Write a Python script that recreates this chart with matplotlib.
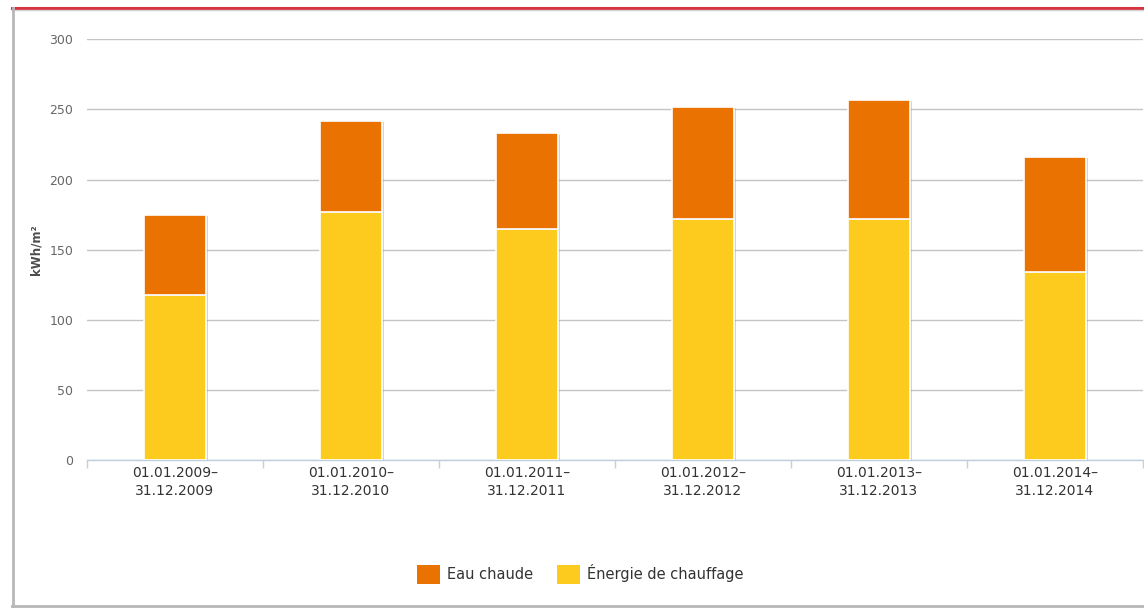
import numpy as np
import matplotlib
matplotlib.use('Agg')
import matplotlib.pyplot as plt
import matplotlib.patheffects as pe
from matplotlib.lines import Line2D

periods = ['01.01.2009–\n31.12.2009', '01.01.2010–\n31.12.2010', '01.01.2011–\n31.12.2011',
           '01.01.2012–\n31.12.2012', '01.01.2013–\n31.12.2013', '01.01.2014–\n31.12.2014']
chauffage = [118, 177, 165, 172, 172, 134]
eau_chaude = [57, 65, 68, 80, 85, 82]

plt.rcParams['font.family'] = ['DejaVu Sans']

fig = plt.figure(figsize=(11.44, 6.10), dpi=100)
ax = fig.add_axes([87/1144, 150/610, 1056/1144, 420.7/610])

x = np.arange(len(periods))
shadow = [pe.SimplePatchShadow(offset=(1.5, -1), shadow_rgbFace='#888888', alpha=0.35), pe.Normal()]
b1 = ax.bar(x, chauffage, width=0.35, color='#FCCB1E', edgecolor='white', linewidth=1.2,
            label='Énergie de chauffage', zorder=3, path_effects=shadow)
b2 = ax.bar(x, eau_chaude, width=0.35, bottom=chauffage, color='#E97200', edgecolor='white',
            linewidth=1.2, label='Eau chaude', zorder=3, path_effects=shadow)

ax.set_xlim(-0.5, len(periods) - 0.5)
ax.set_ylim(0, 300)
ax.set_yticks(range(0, 301, 50))
ax.yaxis.grid(True, color='#C4C4C4', linewidth=1)
ax.set_axisbelow(True)
for s in ['top', 'right', 'left']:
    ax.spines[s].set_visible(False)
ax.spines['bottom'].set_color('#C0D0E0')
ax.spines['bottom'].set_linewidth(1)

ax.set_xticks(x)
ax.set_xticklabels(periods, fontsize=10, color='#333333', linespacing=1.4)
ax.set_xticks(np.arange(-0.5, len(periods)), minor=True)
ax.tick_params(axis='x', which='major', length=0, pad=4)
ax.tick_params(axis='x', which='minor', length=6, color='#C0D0E0', width=1)
ax.tick_params(axis='y', length=0, pad=10, labelsize=9, labelcolor='#666666')

ax.set_ylabel('kWh/m²', fontsize=8.5, fontweight='bold', color='#4D4D4D', labelpad=5)

leg = ax.legend(handles=[b2, b1], loc='center', bbox_to_anchor=(0.467, -0.271), ncol=2,
                frameon=False, fontsize=10.5, handlelength=1.6, handleheight=1.6,
                handletextpad=0.5, columnspacing=1.6, labelcolor='#333333')
for h in leg.legend_handles:
    h.set_path_effects([])
    h.set_edgecolor('none')

# screenshot frame
fig.add_artist(Line2D([12/1144, 1], [1 - 8/610, 1 - 8/610], color='#D8343F', linewidth=2.2))
fig.add_artist(Line2D([12/1144, 1], [1 - 10/610, 1 - 10/610], color='#D0D0D0', linewidth=1))
fig.add_artist(Line2D([13/1144, 13/1144], [1 - 8/610, 1 - 606/610], color='#B8B8B8', linewidth=2))
fig.add_artist(Line2D([12/1144, 1], [1 - 606/610, 1 - 606/610], color='#B8B8B8', linewidth=2))

fig.savefig('out.png', dpi=100)
